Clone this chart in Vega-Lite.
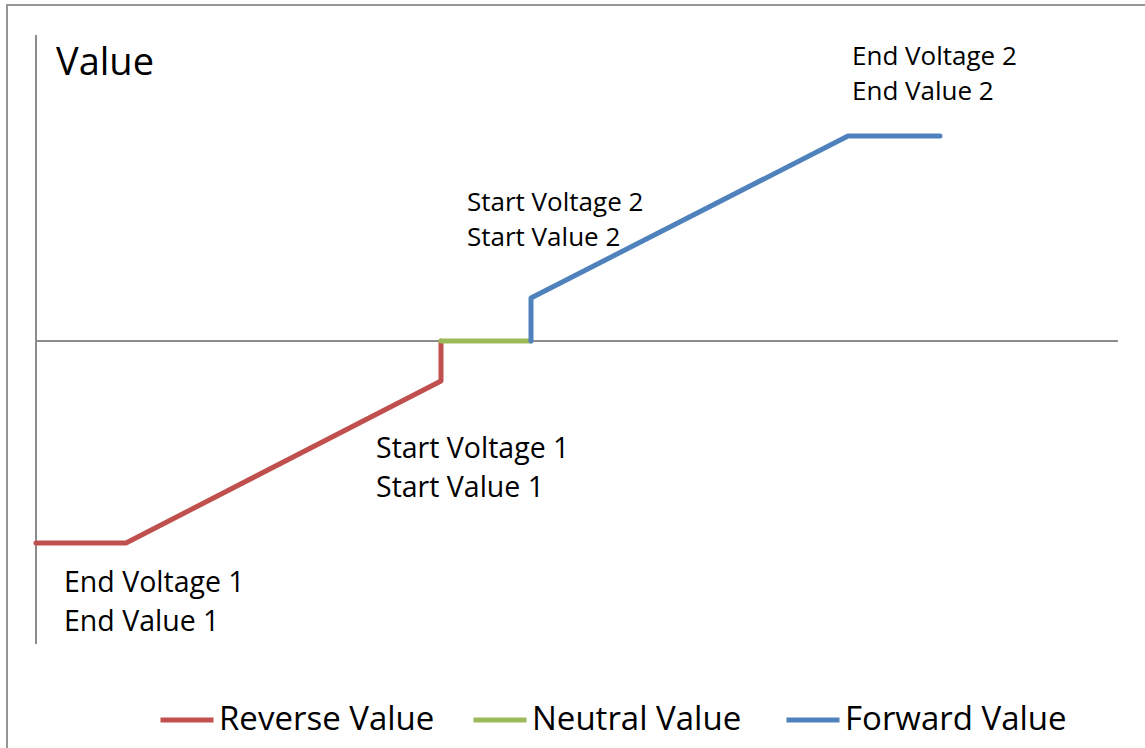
{
  "$schema": "https://vega.github.io/schema/vega-lite/v6.json",
  "width": 1145,
  "height": 750,
  "autosize": {"type": "none"},
  "padding": {"left": 7, "top": 5, "right": 0, "bottom": 0},
  "background": "white",
  "config": {
    "view": {"stroke": "#969696", "strokeWidth": 2},
    "font": "Open Sans"
  },
  "datasets": {
    "lines": [
      {"series": "Reverse Value", "ord": 1, "x": 0, "y": -202},
      {"series": "Reverse Value", "ord": 2, "x": 90, "y": -202},
      {"series": "Reverse Value", "ord": 3, "x": 405, "y": -40},
      {"series": "Reverse Value", "ord": 4, "x": 405, "y": 0},
      {"series": "Neutral Value", "ord": 1, "x": 405, "y": 0},
      {"series": "Neutral Value", "ord": 2, "x": 495, "y": 0},
      {"series": "Forward Value", "ord": 1, "x": 495, "y": 0},
      {"series": "Forward Value", "ord": 2, "x": 495, "y": 43},
      {"series": "Forward Value", "ord": 3, "x": 812, "y": 205},
      {"series": "Forward Value", "ord": 4, "x": 904, "y": 205}
    ],
    "axes": [
      {"x": 0, "y": 306, "x2": 0, "y2": -303},
      {"x": 0, "y": 0, "x2": 1082, "y2": 0}
    ],
    "labels": [
      {"text": "End Voltage 2", "group": "2", "x": 816, "y": 276},
      {"text": "End Value 2", "group": "2", "x": 816, "y": 241},
      {"text": "Start Voltage 2", "group": "2", "x": 431, "y": 130},
      {"text": "Start Value 2", "group": "2", "x": 431, "y": 95},
      {"text": "Start Voltage 1", "group": "1", "x": 340, "y": -117},
      {"text": "Start Value 1", "group": "1", "x": 340, "y": -156},
      {"text": "End Voltage 1", "group": "1", "x": 28, "y": -251},
      {"text": "End Value 1", "group": "1", "x": 28, "y": -290}
    ],
    "title": [
      {"text": "Value", "x": 20, "y": 266}
    ]
  },
  "layer": [
    {
      "data": {"name": "axes"},
      "mark": {"type": "rule", "color": "#8c8c8c", "strokeWidth": 2},
      "encoding": {
        "x": {"field": "x", "type": "quantitative", "scale": {"domain": [-29, 1116]}, "axis": null},
        "y": {"field": "y", "type": "quantitative", "scale": {"domain": [-414, 336]}, "axis": null},
        "x2": {"field": "x2"},
        "y2": {"field": "y2"}
      }
    },
    {
      "data": {"name": "lines"},
      "mark": {"type": "line", "strokeWidth": 5, "strokeCap": "round", "strokeJoin": "round"},
      "encoding": {
        "x": {"field": "x", "type": "quantitative", "scale": {"domain": [-29, 1116]}, "axis": null},
        "y": {"field": "y", "type": "quantitative", "scale": {"domain": [-414, 336]}, "axis": null},
        "order": {"field": "ord"},
        "color": {
          "field": "series",
          "type": "nominal",
          "scale": {"domain": ["Reverse Value", "Neutral Value", "Forward Value"], "range": ["#C0504D", "#9BBB59", "#4F81BD"]},
          "legend": {
            "title": null,
            "orient": "none",
            "legendX": 151,
            "legendY": 686,
            "direction": "horizontal",
            "gridAlign": "all",
            "symbolType": "stroke",
            "symbolSize": 2809,
            "symbolStrokeWidth": 5,
            "labelFontSize": 33,
            "labelFont": "Open Sans",
            "labelColor": "black",
            "labelOffset": 3,
            "columnPadding": 22,
            "labelLimit": 400
          }
        }
      }
    },
    {
      "data": {"name": "labels"},
      "mark": {"type": "text", "align": "left", "baseline": "alphabetic", "color": "black"},
      "encoding": {
        "x": {"field": "x", "type": "quantitative", "scale": {"domain": [-29, 1116]}, "axis": null},
        "y": {"field": "y", "type": "quantitative", "scale": {"domain": [-414, 336]}, "axis": null},
        "size": {"field": "group", "type": "nominal", "scale": {"domain": ["1", "2"], "range": [28.5, 26]}, "legend": null},
        "text": {"field": "text"}
      }
    },
    {
      "data": {"name": "title"},
      "mark": {"type": "text", "align": "left", "baseline": "alphabetic", "fontSize": 38, "color": "black"},
      "encoding": {
        "x": {"field": "x", "type": "quantitative", "scale": {"domain": [-29, 1116]}, "axis": null},
        "y": {"field": "y", "type": "quantitative", "scale": {"domain": [-414, 336]}, "axis": null},
        "text": {"field": "text"}
      }
    }
  ]
}
